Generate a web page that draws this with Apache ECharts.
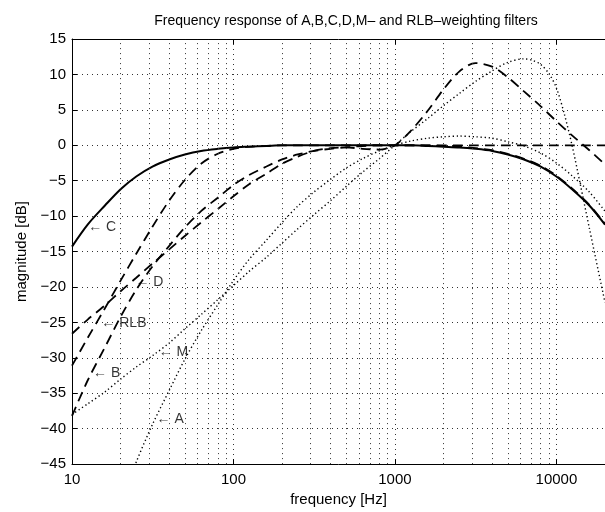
<!DOCTYPE html>
<html>
<head>
<meta charset="utf-8">
<script src="https://cdn.jsdelivr.net/npm/echarts@6/dist/echarts.min.js"></script>
<style>
  html, body { margin: 0; padding: 0; background: #fff; }
  #chart { width: 605px; height: 512px; }
</style>
</head>
<body>
<div id="chart"></div>
<script>
// third-octave frequencies used for A, B, C, D and RLB
const freqs = [10, 12.5, 16, 20, 25, 31.5, 40, 50, 63, 80, 100, 125, 160, 200, 250, 315, 400, 500,
  630, 800, 1000, 1250, 1600, 2000, 2500, 3150, 4000, 5000, 6300, 8000, 10000, 12500, 16000, 20000];

const aWeight = [-70.4, -63.4, -56.7, -50.5, -44.7, -39.4, -34.6, -30.2, -26.2, -22.5, -19.1, -16.1, -13.4,
  -10.9, -8.6, -6.6, -4.8, -3.2, -1.9, -0.8, 0, 0.6, 1.0, 1.2, 1.3, 1.2, 1.0, 0.5, -0.1, -1.1, -2.5, -4.3, -6.6, -9.3];
const bWeight = [-38.2, -33.2, -28.5, -24.2, -20.4, -17.1, -14.2, -11.6, -9.3, -7.4, -5.6, -4.2, -3.0,
  -2.0, -1.3, -0.8, -0.5, -0.3, -0.1, 0, 0, 0, 0, -0.1, -0.2, -0.4, -0.7, -1.2, -1.9, -2.9, -4.3, -6.1, -8.4, -11.1];
const cWeight = [-14.3, -11.2, -8.5, -6.2, -4.4, -3.0, -2.0, -1.3, -0.8, -0.5, -0.3, -0.2, -0.1,
  0, 0, 0, 0, 0, 0, 0, 0, 0, -0.1, -0.2, -0.3, -0.5, -0.8, -1.3, -2.0, -3.0, -4.4, -6.2, -8.5, -11.2];
const dWeight = [-26.6, -24.6, -22.6, -20.6, -18.7, -16.7, -14.7, -12.8, -10.9, -9.0, -7.2, -5.5, -4.0,
  -2.6, -1.6, -0.8, -0.4, -0.3, -0.5, -0.6, 0, 2.0, 4.9, 7.9, 10.4, 11.6, 11.1, 9.6, 7.6, 5.5, 3.4, 1.4, -0.7, -2.7];
const rlbWeight = [-31.1, -27.2, -23.0, -19.1, -15.3, -11.5, -7.8, -4.9, -2.6, -1.2, -0.5, -0.2, -0.1,
  0, 0, 0, 0, 0, 0, 0, 0, 0, 0, 0, 0, 0, 0, 0, 0, 0, 0, 0, 0, 0];

// M (ITU-R 468) has a few extra points around its peak
const mFreqs = [10, 12.5, 16, 20, 25, 31.5, 40, 50, 63, 80, 100, 125, 160, 200, 250, 315, 400, 500,
  630, 800, 1000, 1250, 1600, 2000, 2500, 3150, 4000, 5000, 6300, 7100, 8000, 9000, 10000, 11200, 12500, 14000, 16000, 20000];
const mWeight = [-38.0, -36.5, -34.8, -33.0, -31.3, -29.7, -27.9, -25.9, -23.9, -21.8, -19.8, -17.8, -15.8,
  -13.8, -11.8, -9.8, -7.8, -5.8, -3.8, -1.9, 0, 1.9, 3.8, 5.6, 7.3, 9.0, 10.5, 11.7, 12.2, 12.0, 11.4, 10.1, 8.1, 4.4, 0, -5.3, -11.7, -22.2];

// text labels with arrows
const labelNames = ['C', 'D', 'RLB', 'M', 'B', 'A'];
const labelFreqs = [12.6, 24.7, 15.2, 34.4, 13.5, 33.4];
const labelLevels = [-11.6, -19.3, -25.1, -29.2, -32.2, -38.6];

// dotted grid at the minor log positions
const minorGrid = [20, 30, 40, 50, 60, 70, 80, 90, 200, 300, 400, 500, 600, 700, 800, 900,
  2000, 3000, 4000, 5000, 6000, 7000, 8000, 9000];

const font = '"Liberation Sans", Arial, Helvetica, sans-serif';
const gridDots = { color: '#333', width: 1, type: [1, 4] };
const pairs = (xs, ys) => xs.map((f, i) => [f, ys[i]]);

const curve = (name, xs, ys, type, width) => ({
  name,
  type: 'line',
  data: pairs(xs, ys),
  symbol: 'none',
  smooth: 0.3,
  clip: true,
  silent: true,
  z: 3,
  lineStyle: { color: '#000', width, type }
});

const chart = echarts.init(document.getElementById('chart'));

const option = {
  animation: false,
  backgroundColor: '#fff',
  title: {
    text: 'Frequency response of A,B,C,D,M\u2013 and RLB\u2013weighting filters',
    left: 341,
    textAlign: 'center',
    top: 9,
    textStyle: { fontSize: 14, fontWeight: 'normal', color: '#000', fontFamily: font }
  },
  grid: { left: 72, top: 39, width: 538, height: 430 },
  xAxis: [
    {
      type: 'log',
      logBase: 10,
      min: 10,
      max: 20000,
      position: 'bottom',
      name: 'frequency [Hz]',
      nameLocation: 'middle',
      nameGap: 24,
      nameTextStyle: { fontSize: 15, color: '#000', fontFamily: font },
      axisLine: { onZero: false, lineStyle: { color: '#000', width: 1 } },
      axisTick: { inside: true, length: 5, lineStyle: { color: '#000' } },
      axisLabel: {
        color: '#000', fontSize: 15, fontFamily: font, margin: 8, showMaxLabel: false,
        formatter: v => String(Math.round(v))
      },
      splitLine: { show: true, lineStyle: gridDots }
    },
    {
      type: 'log',
      logBase: 10,
      min: 10,
      max: 20000,
      position: 'top',
      axisLine: { onZero: false, lineStyle: { color: '#000', width: 1 } },
      axisTick: { inside: true, length: 5, lineStyle: { color: '#000' } },
      axisLabel: { show: false },
      splitLine: { show: false }
    }
  ],
  yAxis: {
    type: 'value',
    min: -45,
    max: 15,
    interval: 5,
    name: 'magnitude [dB]',
    nameLocation: 'middle',
    nameGap: 40,
    nameTextStyle: { fontSize: 15, color: '#000', fontFamily: font },
    axisLine: { show: true, onZero: false, lineStyle: { color: '#000', width: 1 } },
    axisTick: { show: true, inside: true, length: 5, lineStyle: { color: '#000' } },
    axisLabel: {
      color: '#000', fontSize: 15, fontFamily: font, margin: 6,
      formatter: v => (v < 0 ? '\u2212' + (-v) : String(v))
    },
    splitLine: { show: true, lineStyle: gridDots }
  },
  series: [
    {
      name: 'grid',
      type: 'line',
      data: [],
      silent: true,
      z: 1,
      markLine: {
        silent: true,
        symbol: ['none', 'none'],
        label: { show: false },
        lineStyle: gridDots,
        data: minorGrid.map(f => ({ xAxis: f }))
      }
    },
    curve('C', freqs, cWeight, 'solid', 2),
    curve('B', freqs, bWeight, [10, 6], 1.8),
    curve('D', freqs, dWeight, [10, 6], 1.8),
    curve('RLB', freqs, rlbWeight, [10, 6], 1.8),
    curve('A', freqs, aWeight, [1.3, 2.7], 1.4),
    curve('M', mFreqs, mWeight, [1.3, 2.7], 1.4),
    {
      name: 'labels',
      type: 'scatter',
      silent: true,
      symbolSize: 0,
      z: 4,
      data: labelNames.map((n, i) => ({ name: n, value: [labelFreqs[i], labelLevels[i]] })),
      label: {
        show: true,
        position: 'right',
        distance: 0,
        color: '#000',
        fontSize: 14,
        fontFamily: font,
        formatter: p => '\u2190 ' + p.name
      }
    }
  ]
};

chart.setOption(option);
</script>
</body>
</html>
